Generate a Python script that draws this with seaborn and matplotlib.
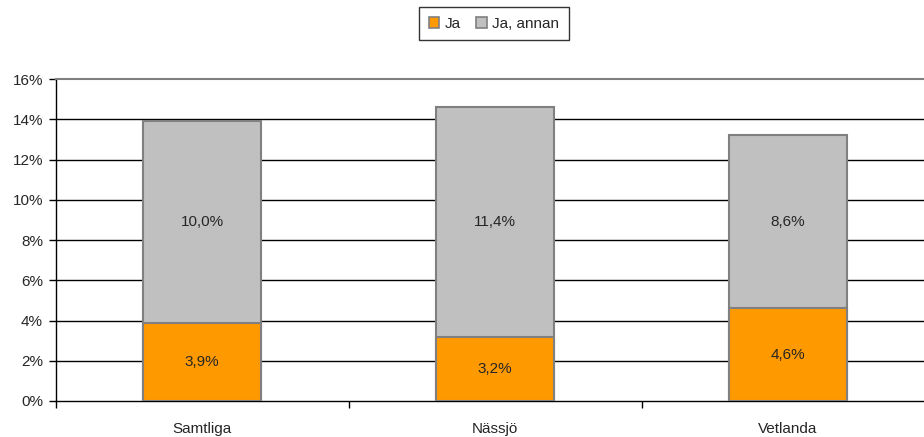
import matplotlib
matplotlib.use("Agg")
import matplotlib.pyplot as plt
import seaborn as sns
import pandas as pd
from matplotlib.patches import Patch

categories = ["Samtliga", "Nässjö", "Vetlanda"]
ja = [3.9, 3.2, 4.6]
ja_annan = [10.0, 11.4, 8.6]
yticks = [0, 2, 4, 6, 8, 10, 12, 14, 16]

sns.set_style("white")
plt.rcParams['font.family'] = ['Liberation Sans', 'DejaVu Sans']

totals = [a + b for a, b in zip(ja, ja_annan)]
df = pd.DataFrame({"cat": categories, "ja": ja, "annan": ja_annan, "total": totals})

fig = plt.figure(figsize=(9.24, 4.37), dpi=100)
ax = fig.add_axes([55.5/924, 1 - 401/437, 879/924, 322/437])

sns.barplot(data=df, x="cat", y="total", color="#C0C0C0", width=0.4,
            edgecolor="#808080", linewidth=1.5, ax=ax, saturation=1, zorder=3)
sns.barplot(data=df, x="cat", y="ja", color="#FF9900", width=0.4,
            edgecolor="#808080", linewidth=1.5, ax=ax, saturation=1, zorder=3)

fs = 11
gray_bars = ax.patches[:3]
orange_bars = ax.patches[3:]
for i, p in enumerate(gray_bars):
    x = p.get_x() + p.get_width() / 2
    ax.text(x, ja[i] + ja_annan[i] / 2, f"{ja_annan[i]:.1f}".replace(".", ",") + "%",
            ha="center", va="center", fontsize=fs, zorder=5)
for i, p in enumerate(orange_bars):
    x = p.get_x() + p.get_width() / 2
    ax.text(x, ja[i] / 2, f"{ja[i]:.1f}".replace(".", ",") + "%",
            ha="center", va="center", fontsize=fs, zorder=5)

ax.set_xlim(-0.5, 2.5)
ax.set_ylim(0, 16)
ax.set_yticks(yticks)
ax.set_yticklabels([f"{t}%" for t in yticks], fontsize=fs)
for t in yticks[1:-1]:
    ax.axhline(t, color="black", linewidth=1, zorder=1)

ax.set_xlabel("")
ax.set_ylabel("")
ax.set_xticks([0, 1, 2])
ax.set_xticklabels(categories, fontsize=fs)
ax.set_xticks([-0.5, 0.5, 1.5, 2.5], minor=True)
ax.tick_params(axis="x", which="major", length=0, pad=15)
ax.tick_params(axis="x", which="minor", length=5, width=1, color="black", direction="out", bottom=True)
ax.tick_params(axis="y", length=5, width=1, color="black", direction="out", left=True, pad=4)

for s in ["left", "bottom"]:
    ax.spines[s].set_color("black")
    ax.spines[s].set_linewidth(1)
ax.spines["top"].set_color("#808080")
ax.spines["top"].set_linewidth(1.5)
ax.spines["right"].set_visible(False)

handles = [Patch(facecolor="#FF9900", edgecolor="#808080", linewidth=1.2, label="Ja"),
           Patch(facecolor="#C0C0C0", edgecolor="#808080", linewidth=1.2, label="Ja, annan")]
leg = fig.legend(handles=handles, loc="center", bbox_to_anchor=(494/924, 1 - 23.5/437),
                 ncol=2, frameon=True, fancybox=False, fontsize=fs,
                 handlelength=0.7, handleheight=0.7, handletextpad=0.35,
                 columnspacing=1.0, borderpad=0.65, borderaxespad=0)
leg.get_frame().set_edgecolor("black")
leg.get_frame().set_linewidth(1)

fig.savefig("out.png", dpi=100)
